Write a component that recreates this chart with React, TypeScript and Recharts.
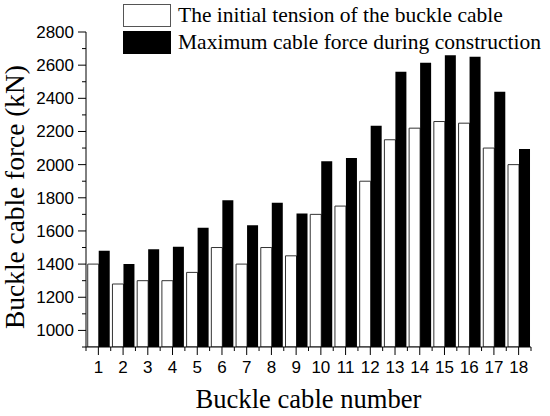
import { BarChart, Bar, XAxis, YAxis, Label } from 'recharts';

const CABLES = ['1', '2', '3', '4', '5', '6', '7', '8', '9', '10', '11', '12', '13', '14', '15', '16', '17', '18'];
const INITIAL_TENSION = [1400, 1280, 1300, 1300, 1350, 1500, 1400, 1500, 1450, 1700, 1750, 1900, 2150, 2220, 2260, 2250, 2100, 2000];
const MAX_FORCE = [1480, 1400, 1490, 1505, 1620, 1785, 1635, 1770, 1705, 2020, 2040, 2235, 2560, 2615, 2660, 2650, 2440, 2095];
const Y_TICKS = [900, 1000, 1100, 1200, 1300, 1400, 1500, 1600, 1700, 1800, 1900, 2000, 2100, 2200, 2300, 2400, 2500, 2600, 2700, 2800];

const SANS = '"Liberation Sans", Arial, sans-serif';
const SERIF = '"Liberation Serif", "Times New Roman", serif';

const data = CABLES.map((c, i) => ({ cable: c, initial: INITIAL_TENSION[i], max: MAX_FORCE[i] }));

function YTick(props: any) {
  const { x, y, payload } = props;
  const major = payload.value % 200 === 0;
  return (
    <g>
      <line x1={x - (major ? 8 : 4)} x2={x} y1={y} y2={y} stroke="#000" strokeWidth={1} />
      {major && (
        <text x={x - 12} y={y + 6} textAnchor="end" fontSize={17} fontFamily={SANS} fill="#000">
          {payload.value}
        </text>
      )}
    </g>
  );
}

function XTick(props: any) {
  const { x, y, payload, index, visibleTicksCount } = props;
  const half = payload.offset || 12.36;
  const last = index === visibleTicksCount - 1;
  return (
    <g>
      <line x1={x} x2={x} y1={y} y2={y + 8} stroke="#000" strokeWidth={1} />
      <line x1={x - half} x2={x - half} y1={y} y2={y + 4} stroke="#000" strokeWidth={1} />
      {last && <line x1={x + half} x2={x + half} y1={y} y2={y + 4} stroke="#000" strokeWidth={1} />}
      <text x={x} y={y + 26} textAnchor="middle" fontSize={17} fontFamily={SANS} fill="#000">
        {payload.value}
      </text>
    </g>
  );
}

const renderXLabel = (props: any) => {
  const vb = props.viewBox;
  return (
    <text x={vb.x + vb.width / 2} y={408} textAnchor="middle" fontSize={26.6} fontFamily={SERIF} fill="#000">
      Buckle cable number
    </text>
  );
};

// rotated title, centred a bit lower than the plot centre like the original
const renderYLabel = () => {
  const cx = 24;
  const cy = 197;
  return (
    <text x={cx} y={cy} transform={`rotate(-90, ${cx}, ${cy})`} textAnchor="middle" fontSize={27.4} fontFamily={SERIF} fill="#000">
      Buckle cable force (kN)
    </text>
  );
};

function LegendBox() {
  const row = { display: 'flex', alignItems: 'center', height: 23, marginBottom: 4 } as const;
  const text = { fontFamily: SERIF, fontSize: 21.5, lineHeight: '23px', marginLeft: 7, color: '#000', whiteSpace: 'nowrap' } as const;
  return (
    <div style={{ position: 'absolute', left: 123, top: 4 }}>
      <div style={row}>
        <div style={{ width: 46, height: 21, border: '1px solid #555', background: '#fff' }} />
        <span style={text}>The initial tension of the buckle cable</span>
      </div>
      <div style={row}>
        <div style={{ width: 48, height: 23, background: '#000' }} />
        <span style={text}>Maximum cable force during construction</span>
      </div>
    </div>
  );
}

export default function App() {
  return (
    <div style={{ position: 'absolute', left: 0, top: 0, width: 550, height: 416, background: '#fff' }}>
      <BarChart
        width={550}
        height={416}
        data={data}
        margin={{ top: 32, right: 19, left: 0, bottom: 0 }}
        barCategoryGap="7%"
        barGap={0}
      >
        <XAxis
          dataKey="cable"
          height={69}
          axisLine={{ stroke: '#000' }}
          tickLine={false}
          tickSize={0}
          tickMargin={0}
          tick={<XTick />}
          interval={0}
        >
          <Label content={renderXLabel} />
        </XAxis>
        <YAxis
          width={86}
          domain={[900, 2800]}
          ticks={Y_TICKS}
          interval={0}
          allowDataOverflow
          axisLine={{ stroke: '#000' }}
          tickLine={false}
          tickSize={0}
          tickMargin={0}
          tick={<YTick />}
        >
          <Label content={renderYLabel} />
        </YAxis>
        <Bar dataKey="initial" fill="#fff" stroke="#333" strokeWidth={1} isAnimationActive={false} />
        <Bar dataKey="max" fill="#000" isAnimationActive={false} />
      </BarChart>
      <LegendBox />
    </div>
  );
}
